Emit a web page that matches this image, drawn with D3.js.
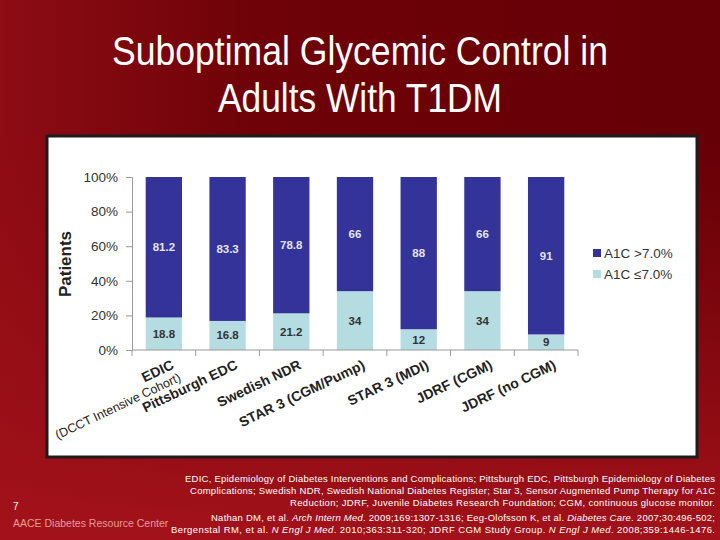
<!DOCTYPE html>
<html>
<head>
<meta charset="utf-8">
<style>
  body { margin: 0; background: #7a050b; }
  svg { display: block; font-family: "Liberation Sans", Arial, sans-serif; }
</style>
</head>
<body>
<svg id="slide" width="720" height="540"></svg>
<script src="https://cdn.jsdelivr.net/npm/d3@7"></script>
<script>
// data
const studies = ["EDIC", "Pittsburgh EDC", "Swedish NDR", "STAR 3 (CGM/Pump)", "STAR 3 (MDI)", "JDRF (CGM)", "JDRF (no CGM)"];
const subLabels = ["(DCCT Intensive Cohort)", "", "", "", "", "", ""];
const atGoal = [18.8, 16.8, 21.2, 34, 12, 34, 9];        // A1C <=7.0%
const aboveGoal = [81.2, 83.3, 78.8, 66, 88, 66, 91];    // A1C >7.0%
const seriesNames = ["A1C \u22647.0%", "A1C >7.0%"];
const yTicks = [0, 20, 40, 60, 80, 100];

const svg = d3.select("#slide");

// background
const defs = svg.append("defs");
const bg = defs.append("linearGradient").attr("id", "bg").attr("x1", 0).attr("x2", 1).attr("y1", 0).attr("y2", 0);
bg.append("stop").attr("offset", 0).attr("stop-color", "#8e0c14");
bg.append("stop").attr("offset", 0.35).attr("stop-color", "#6e0208");
bg.append("stop").attr("offset", 1).attr("stop-color", "#640006");
const bgLow = defs.append("linearGradient").attr("id", "bgLow").attr("x1", 0).attr("x2", 0).attr("y1", 0).attr("y2", 1);
bgLow.append("stop").attr("offset", 0).attr("stop-color", "#9a0d15").attr("stop-opacity", 0);
bgLow.append("stop").attr("offset", 1).attr("stop-color", "#a3121a").attr("stop-opacity", 1);
svg.append("rect").attr("width", 720).attr("height", 540).attr("fill", "url(#bg)");
svg.append("rect").attr("y", 130).attr("width", 720).attr("height", 410).attr("fill", "url(#bgLow)");

// title (slide text is a bit condensed)
svg.append("g")
    .attr("fill", "#fff")
    .attr("font-size", 40)
    .attr("text-anchor", "middle")
  .selectAll("text")
  .data([["Suboptimal Glycemic Control in", 496], ["Adults With T1DM", 284]])
  .join("text")
    .attr("x", 360)
    .attr("y", (d, i) => 65 + i * 47)
    .attr("textLength", d => d[1])
    .attr("lengthAdjust", "spacingAndGlyphs")
    .text(d => d[0]);

// white chart panel
svg.append("rect")
    .attr("x", 47).attr("y", 136)
    .attr("width", 650).attr("height", 321)
    .attr("fill", "#fff")
    .attr("stroke", "#1c1c1c")
    .attr("stroke-width", 3);

const x = d3.scaleBand()
    .domain(studies)
    .range([132, 578])
    .paddingInner(0.43)
    .paddingOuter(0.215);

const y = d3.scaleLinear()
    .domain([0, 100])
    .range([350, 177]);

const color = d3.scaleOrdinal()
    .domain(seriesNames)
    .range(["#b5dde1", "#333399"]);

const rows = studies.map((s, i) => ({study: s, [seriesNames[0]]: atGoal[i], [seriesNames[1]]: aboveGoal[i]}));
const stacked = d3.stack().keys(seriesNames)(rows);

// bars
svg.append("g")
  .selectAll("g")
  .data(stacked)
  .join("g")
    .attr("fill", d => color(d.key))
  .selectAll("rect")
  .data(d => d)
  .join("rect")
    .attr("x", d => x(d.data.study))
    .attr("y", d => y(Math.min(100, d[1])))
    .attr("width", x.bandwidth())
    .attr("height", d => y(d[0]) - y(Math.min(100, d[1])));

// value labels
svg.append("g")
    .attr("font-size", 11.5)
    .attr("font-weight", "bold")
    .attr("text-anchor", "middle")
  .selectAll("g")
  .data(stacked)
  .join("g")
    .attr("fill", (d, i) => i === 0 ? "#333" : "#e4e4ee")
  .selectAll("text")
  .data(d => d.map(v => Object.assign({}, v, {key: d.key})))
  .join("text")
    .attr("x", d => x(d.data.study) + x.bandwidth() / 2)
    .attr("y", d => y((d[0] + Math.min(100, d[1])) / 2) + 4)
    .text(d => d.data[d.key]);

// y axis
svg.append("g")
    .attr("transform", "translate(132,0)")
    .call(d3.axisLeft(y).tickValues(yTicks).tickFormat(d => d + "%").tickSize(6).tickPadding(8))
    .call(g => g.selectAll("line, path").attr("stroke", "#9a9a9a"))
    .call(g => g.selectAll("text").attr("fill", "#333").attr("font-size", 13.5).attr("font-family", "Liberation Sans, Arial, sans-serif"));

svg.append("text")
    .attr("transform", "translate(71,264) rotate(-90)")
    .attr("text-anchor", "middle")
    .attr("font-size", 17)
    .attr("font-weight", "bold")
    .attr("fill", "#222")
    .text("Patients");

// x axis line with ticks between categories
const gap = (x.step() - x.bandwidth()) / 2;
const bounds = studies.map(s => x(s) - gap).concat([x(studies[studies.length - 1]) + x.bandwidth() + gap]);
const xAxis = svg.append("g").attr("stroke", "#9a9a9a");
xAxis.append("line").attr("x1", 132).attr("x2", 578).attr("y1", y(0)).attr("y2", y(0));
xAxis.selectAll(".tk").data(bounds).join("line")
    .attr("x1", d => d).attr("x2", d => d)
    .attr("y1", y(0)).attr("y2", y(0) + 6);

// rotated category labels
const lab = svg.append("g")
    .attr("fill", "#222")
    .attr("font-weight", "bold")
    .attr("text-anchor", "end")
  .selectAll("g")
  .data(studies)
  .join("g")
    .attr("transform", d => `translate(${x(d) + x.bandwidth() / 2 + 7.5},${y(0) + 11}) rotate(-25.5)`);
lab.append("text")
    .attr("font-size", 14)
    .attr("y", 8)
    .text(d => d);
lab.append("text")
    .attr("font-size", 12.5)
    .attr("font-weight", "normal")
    .attr("x", 1)
    .attr("y", 22)
    .text((d, i) => subLabels[i]);

// legend
const leg = svg.append("g")
  .selectAll("g")
  .data(seriesNames.slice().reverse())
  .join("g")
    .attr("transform", (d, i) => `translate(593,${249 + i * 21})`);
leg.append("rect").attr("width", 8).attr("height", 8).attr("fill", d => color(d));
leg.append("text")
    .attr("x", 11).attr("y", 9)
    .attr("font-size", 13.5)
    .attr("fill", "#333")
    .text(d => d);

// footnotes
const notes = [
  [["EDIC, Epidemiology of Diabetes Interventions and Complications; Pittsburgh EDC, Pittsburgh Epidemiology of Diabetes", false]],
  [["Complications; Swedish NDR, Swedish National Diabetes Register; Star 3, Sensor Augmented Pump Therapy for A1C", false]],
  [["Reduction; JDRF, Juvenile Diabetes Research Foundation; CGM, continuous glucose monitor.", false]],
  [["Nathan DM, et al. ", false], ["Arch Intern Med", true], [". 2009;169:1307-1316; Eeg-Olofsson K, et al. ", false], ["Diabetes Care", true], [". 2007;30:496-502;", false]],
  [["Bergenstal RM, et al. ", false], ["N Engl J Med", true], [". 2010;363:311-320; JDRF CGM Study Group. ", false], ["N Engl J Med", true], [". 2008;359:1446-1476.", false]]
];
const lineY = [482, 494, 506, 521, 533];
const lineW = [530, 525, 425, 504, 544];
svg.append("g")
    .attr("fill", "#fff")
    .attr("font-size", 9.5)
    .attr("text-anchor", "end")
  .selectAll("text")
  .data(notes)
  .join("text")
    .attr("x", 715)
    .attr("y", (d, i) => lineY[i])
    .attr("textLength", (d, i) => lineW[i])
    .attr("lengthAdjust", "spacing")
  .selectAll("tspan")
  .data(d => d)
  .join("tspan")
    .attr("font-style", d => d[1] ? "italic" : "normal")
    .text(d => d[0]);

svg.append("text").attr("x", 13).attr("y", 510).attr("fill", "#fff").attr("font-size", 10).text("7");
svg.append("text").attr("x", 13).attr("y", 527).attr("fill", "#e79a9a").attr("font-size", 10.5).text("AACE Diabetes Resource Center");
</script>
</body>
</html>
